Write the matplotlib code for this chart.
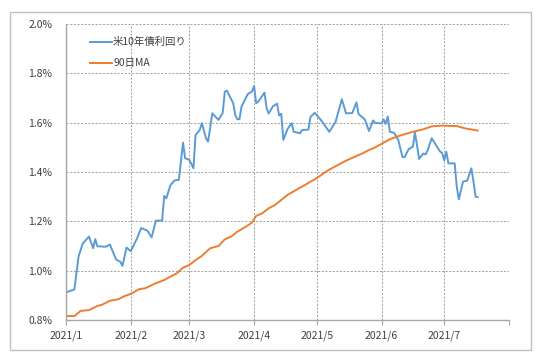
import matplotlib
matplotlib.use("Agg")
import matplotlib.pyplot as plt
import matplotlib.dates as mdates
from matplotlib.patches import Rectangle
import pandas as pd

plt.rcParams['font.family'] = ['Noto Sans CJK JP', 'DejaVu Sans']

# 米10年債利回り (%)
yield_dates = [
    "2021-01-01", "2021-01-05", "2021-01-07", "2021-01-09", "2021-01-12", "2021-01-14",
    "2021-01-15", "2021-01-16", "2021-01-20", "2021-01-22", "2021-01-25", "2021-01-27",
    "2021-01-28", "2021-01-30", "2021-02-01", "2021-02-04", "2021-02-06", "2021-02-09",
    "2021-02-11", "2021-02-13", "2021-02-16", "2021-02-17", "2021-02-18", "2021-02-20",
    "2021-02-22", "2021-02-24", "2021-02-26", "2021-02-27", "2021-03-01", "2021-03-03",
    "2021-03-04", "2021-03-06", "2021-03-07", "2021-03-09", "2021-03-10", "2021-03-12",
    "2021-03-15", "2021-03-17", "2021-03-18", "2021-03-19", "2021-03-22", "2021-03-23",
    "2021-03-24", "2021-03-25", "2021-03-26", "2021-03-29", "2021-03-31", "2021-04-01",
    "2021-04-02", "2021-04-03", "2021-04-06", "2021-04-07", "2021-04-08", "2021-04-10",
    "2021-04-12", "2021-04-13", "2021-04-14", "2021-04-15", "2021-04-17", "2021-04-19",
    "2021-04-20", "2021-04-23", "2021-04-24", "2021-04-27", "2021-04-28", "2021-04-30",
    "2021-05-03", "2021-05-07", "2021-05-10", "2021-05-13", "2021-05-15", "2021-05-18",
    "2021-05-20", "2021-05-21", "2021-05-24", "2021-05-26", "2021-05-28", "2021-05-29",
    "2021-06-01", "2021-06-02", "2021-06-03", "2021-06-04", "2021-06-05", "2021-06-07",
    "2021-06-09", "2021-06-11", "2021-06-12", "2021-06-14", "2021-06-16", "2021-06-17",
    "2021-06-19", "2021-06-21", "2021-06-22", "2021-06-23", "2021-06-25", "2021-06-27",
    "2021-06-29", "2021-06-30", "2021-07-01", "2021-07-02", "2021-07-03", "2021-07-06",
    "2021-07-07", "2021-07-08", "2021-07-10", "2021-07-12", "2021-07-14", "2021-07-15",
    "2021-07-16", "2021-07-17",
]
yield_values = [
    0.912, 0.924, 1.057, 1.110, 1.138, 1.091,
    1.128, 1.099, 1.097, 1.106, 1.045, 1.036,
    1.019, 1.094, 1.079, 1.131, 1.173, 1.162,
    1.135, 1.203, 1.203, 1.303, 1.293, 1.347,
    1.366, 1.368, 1.519, 1.456, 1.449, 1.415,
    1.550, 1.570, 1.598, 1.537, 1.523, 1.638,
    1.611, 1.640, 1.726, 1.730, 1.679, 1.631,
    1.614, 1.614, 1.665, 1.716, 1.726, 1.749,
    1.679, 1.685, 1.722, 1.658, 1.637, 1.666,
    1.677, 1.629, 1.636, 1.530, 1.574, 1.598,
    1.563, 1.557, 1.570, 1.572, 1.623, 1.640,
    1.611, 1.563, 1.603, 1.695, 1.638, 1.639,
    1.682, 1.635, 1.613, 1.566, 1.609, 1.599,
    1.597, 1.613, 1.595, 1.625, 1.563, 1.559,
    1.530, 1.461, 1.460, 1.493, 1.503, 1.560,
    1.453, 1.475, 1.471, 1.486, 1.537, 1.510,
    1.483, 1.477, 1.447, 1.482, 1.435, 1.435,
    1.340, 1.289, 1.361, 1.365, 1.415, 1.361,
    1.300, 1.298,
]

# 90日MA (%)
ma_dates = [
    "2021-01-01", "2021-01-05", "2021-01-08", "2021-01-12", "2021-01-16", "2021-01-18",
    "2021-01-22", "2021-01-26", "2021-01-29", "2021-02-01", "2021-02-05", "2021-02-08",
    "2021-02-13", "2021-02-17", "2021-02-20", "2021-02-23", "2021-02-26", "2021-03-01",
    "2021-03-04", "2021-03-07", "2021-03-11", "2021-03-15", "2021-03-18", "2021-03-21",
    "2021-03-24", "2021-03-28", "2021-03-31", "2021-04-02", "2021-04-05", "2021-04-08",
    "2021-04-11", "2021-04-17", "2021-04-24", "2021-05-01", "2021-05-06", "2021-05-15",
    "2021-05-23", "2021-05-26", "2021-05-29", "2021-06-01", "2021-06-05", "2021-06-10",
    "2021-06-16", "2021-06-21", "2021-06-25", "2021-06-30", "2021-07-07", "2021-07-11",
    "2021-07-17",
]
ma_values = [
    0.816, 0.816, 0.837, 0.840, 0.857, 0.861,
    0.878, 0.884, 0.897, 0.906, 0.925, 0.929,
    0.949, 0.962, 0.976, 0.989, 1.012, 1.023,
    1.043, 1.060, 1.091, 1.100, 1.127, 1.138,
    1.158, 1.178, 1.195, 1.222, 1.233, 1.253,
    1.266, 1.307, 1.341, 1.375, 1.405, 1.446,
    1.476, 1.489, 1.500, 1.514, 1.533, 1.548,
    1.563, 1.573, 1.585, 1.588, 1.586, 1.577,
    1.568,
]

month_ticks = ["2021-01-01", "2021-02-01", "2021-03-01", "2021-04-01", "2021-05-01",
               "2021-06-01", "2021-07-01", "2021-08-01"]
month_labels = ["2021/1", "2021/2", "2021/3", "2021/4", "2021/5", "2021/6", "2021/7", ""]
y_ticks = [0.8, 1.0, 1.2, 1.4, 1.6, 1.8, 2.0]

series_names = ["米10年債利回り", "90日MA"]
blue = "#5B9BD5"
orange = "#ED7D31"
gray = "#A6A6A6"
text_color = "#404040"

W, H = 540, 363
fig = plt.figure(figsize=(W / 100, H / 100), dpi=100)

# outer chart frame
fig.patches.append(Rectangle((9.5 / W, 13.5 / H), 521.5 / W, 338 / H,
                             transform=fig.transFigure, fill=False,
                             edgecolor="#BFBFBF", linewidth=1.0))

ax = fig.add_axes([66 / W, 43 / H, 443 / W, 296 / H])

ax.plot(pd.to_datetime(yield_dates), yield_values, color=blue, lw=1.4,
        label=series_names[0], solid_joinstyle="round")
ax.plot(pd.to_datetime(ma_dates), ma_values, color=orange, lw=1.4,
        label=series_names[1], solid_joinstyle="round")

ax.set_xlim(pd.Timestamp(month_ticks[0]), pd.Timestamp(month_ticks[-1]))
ax.set_ylim(y_ticks[0], y_ticks[-1])
ax.set_xticks(pd.to_datetime(month_ticks))
ax.set_xticklabels(month_labels)
ax.set_yticks(y_ticks)
ax.set_yticklabels([f"{v:.1f}%" for v in y_ticks])

ax.grid(True, color=gray, linestyle=(0, (2, 1.5)), linewidth=0.75)
ax.set_axisbelow(True)
for s in ["top", "right"]:
    ax.spines[s].set_visible(False)
for s in ["left", "bottom"]:
    ax.spines[s].set_color(gray)
    ax.spines[s].set_linewidth(1.0)

ax.tick_params(axis="x", direction="out", length=3.5, width=0.8, color=gray,
               labelsize=7.5, labelcolor=text_color, pad=4)
ax.tick_params(axis="y", length=0, labelsize=7.5, labelcolor=text_color, pad=10)

leg = ax.legend(loc="upper left", bbox_to_anchor=(88 / W, 1 - 35 / H),
                bbox_transform=fig.transFigure, frameon=False, fontsize=7.5,
                handlelength=2.1, handletextpad=0.1, labelspacing=1.05,
                borderpad=0.2, borderaxespad=0)
for t in leg.get_texts():
    t.set_color(text_color)

fig.savefig("out.png", dpi=100)
